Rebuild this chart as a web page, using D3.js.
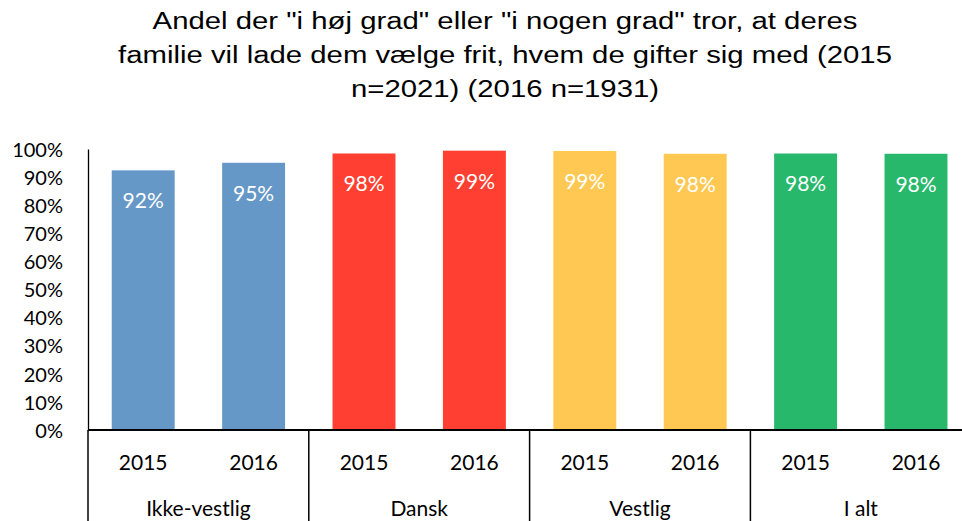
<!DOCTYPE html>
<html>
<head>
<meta charset="utf-8">
<script src="https://cdn.jsdelivr.net/npm/d3@7"></script>
<style>
  body { margin: 0; background: #fff; }
  svg text { font-family: Lato, "Open Sans", sans-serif; }
  .title { font-family: "Liberation Sans", Arial, sans-serif !important; font-size: 23px; }
</style>
</head>
<body>
<script>
// chart data
const groups = ["Ikke-vestlig", "Dansk", "Vestlig", "I alt"];
const years = ["2015", "2016"];
const values = [92.4, 95.1, 98.4, 99.4, 99.3, 98.3, 98.4, 98.3]; // percent, group by group
const groupColors = ["#6598c7", "#ff3f31", "#ffc852", "#28b86c"];
const yTicks = [0, 10, 20, 30, 40, 50, 60, 70, 80, 90, 100];
const titleLines = [
  "Andel der \"i høj grad\" eller \"i nogen grad\" tror, at deres",
  "familie vil lade dem vælge frit, hvem de gifter sig med (2015",
  "n=2021) (2016 n=1931)"
];

const W = 962, H = 521;
const margin = { top: 149, right: 0, bottom: 91, left: 88 };
const width = W - margin.left - margin.right;
const height = H - margin.top - margin.bottom;

// flat rows for the bars
const rows = values.map((v, i) => ({
  key: i,
  group: groups[Math.floor(i / years.length)],
  gi: Math.floor(i / years.length),
  year: years[i % years.length],
  value: v
}));

const svg = d3.select('body').append('svg')
  .attr('width', W)
  .attr('height', H);

// title is drawn a bit stretched, like the original picture
svg.append('g')
  .attr('transform', 'translate(505,0) scale(1.275,1)')
  .selectAll('text')
  .data(titleLines)
  .enter().append('text')
  .attr('class', 'title')
  .attr('x', 0)
  .attr('y', (d, i) => 29 + i * 34)
  .attr('text-anchor', 'middle')
  .attr('fill', '#000')
  .text(d => d);

const g = svg.append('g')
  .attr('transform', `translate(${margin.left},${margin.top})`);

const x = d3.scaleBand()
  .domain(rows.map(d => d.key))
  .range([0, groups.length * 220.8])
  .paddingInner(0.43)
  .paddingOuter(0.215);

const xGroup = d3.scaleBand()
  .domain(groups)
  .range([0, groups.length * 220.8]);

const y = d3.scaleLinear()
  .domain([0, 100])
  .range([height, 0]);

// y axis
const yAxis = g.append('g')
  .call(d3.axisLeft(y).tickValues(yTicks).tickSize(0).tickPadding(7)
    .tickFormat(d => d + '%'));
yAxis.select('.domain').attr('stroke', '#000').attr('stroke-width', 1.3);
yAxis.selectAll('text')
  .attr('font-size', '20px')
  .attr('fill', '#000')
  .attr('x', -25)
  .attr('dy', '0.36em');

// bars
g.selectAll('rect.bar')
  .data(rows)
  .enter().append('rect')
  .attr('class', 'bar')
  .attr('x', d => x(d.key))
  .attr('width', x.bandwidth())
  .attr('y', d => y(d.value))
  .attr('height', d => height - y(d.value))
  .attr('fill', d => groupColors[d.gi]);

// value labels
g.selectAll('text.val')
  .data(rows)
  .enter().append('text')
  .attr('class', 'val')
  .attr('x', d => x(d.key) + x.bandwidth() / 2)
  .attr('y', d => y(d.value) + 38)
  .attr('text-anchor', 'middle')
  .attr('fill', '#fff')
  .attr('font-size', '21px')
  .text(d => Math.floor(d.value) + '%');

// x axis: baseline, group separators, year and group labels
g.append('line')
  .attr('x1', 0).attr('x2', width)
  .attr('y1', height).attr('y2', height)
  .attr('stroke', '#000').attr('stroke-width', 2);

g.selectAll('line.sep')
  .data(groups.concat(['end']))
  .enter().append('line')
  .attr('class', 'sep')
  .attr('x1', (d, i) => i * xGroup.bandwidth())
  .attr('x2', (d, i) => i * xGroup.bandwidth())
  .attr('y1', height)
  .attr('y2', H - margin.top)
  .attr('stroke', '#000')
  .attr('stroke-width', 1.5);

g.selectAll('text.year')
  .data(rows)
  .enter().append('text')
  .attr('class', 'year')
  .attr('x', d => x(d.key) + x.bandwidth() / 2)
  .attr('y', height + 40)
  .attr('text-anchor', 'middle')
  .attr('font-size', '21px')
  .attr('fill', '#000')
  .text(d => d.year);

g.selectAll('text.grp')
  .data(groups)
  .enter().append('text')
  .attr('class', 'grp')
  .attr('x', d => xGroup(d) + xGroup.bandwidth() / 2)
  .attr('y', height + 86)
  .attr('text-anchor', 'middle')
  .attr('font-size', '21px')
  .attr('fill', '#000')
  .text(d => d);
</script>
</body>
</html>
